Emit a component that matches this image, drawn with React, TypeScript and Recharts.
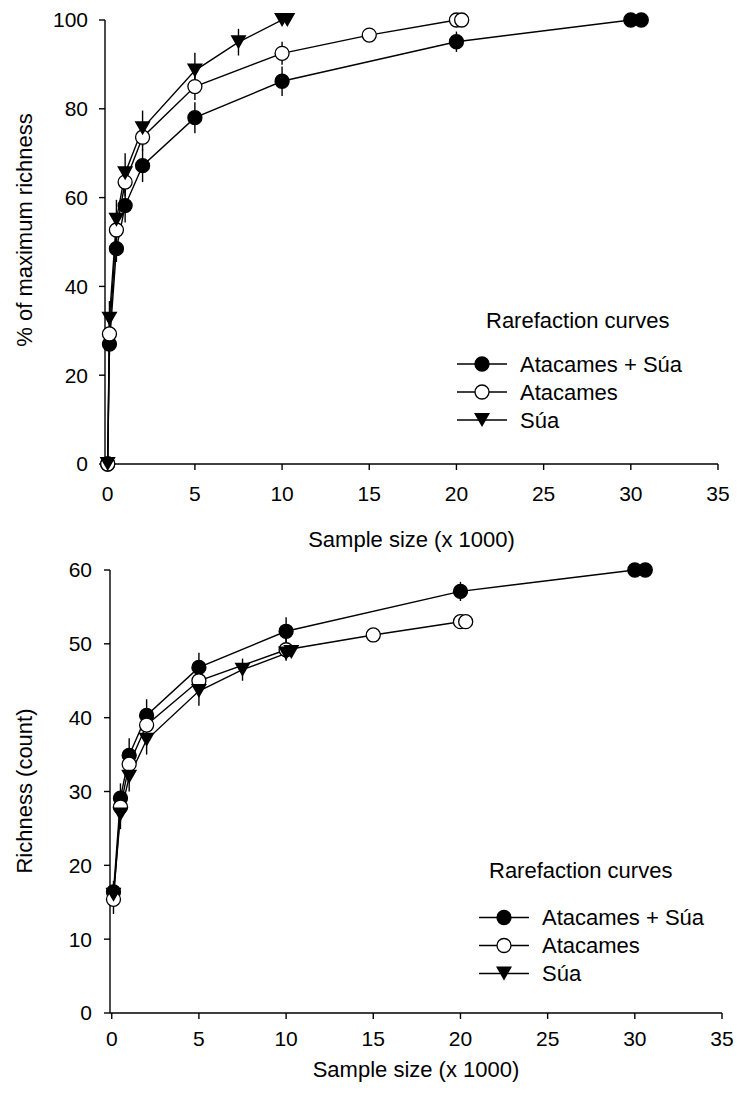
import React from "react";
import { LineChart, Line, XAxis, YAxis, ErrorBar, Label } from "recharts";

const FONT = '"Liberation Sans", Arial, Helvetica, sans-serif';

// sample size (x 1000) for each curve
const comboSizes = [0.1, 0.5, 1, 2, 5, 10, 20, 30, 30.6];
const atacamesSizes = [0.1, 0.5, 1, 2, 5, 10, 15, 20, 20.3];
const suaSizes = [0.1, 0.5, 1, 2, 5, 7.5, 10, 10.3];

// top panel: % of maximum richness (curves start at 0 samples)
const comboPct = [0, 27, 48.5, 58.2, 67.2, 78, 86.2, 95.1, 100, 100];
const comboPctErr = [0, 2.5, 3, 3.8, 3.7, 3.5, 3.3, 2.3, 0, 0];
const atacamesPct = [0, 29.3, 52.7, 63.5, 73.6, 85, 92.5, 96.6, 100, 100];
const atacamesPctErr = [0, 2.5, 3, 3.2, 3, 3, 2.6, 1.2, 0, 0];
const suaPct = [0, 32.7, 55, 65.5, 75.6, 88.6, 95, 100, 100];
const suaPctErr = [0, 4, 4.5, 4.5, 4, 4, 3, 0, 0];

// bottom panel: richness (count)
const comboCount = [16.4, 29.1, 34.9, 40.3, 46.8, 51.7, 57.1, 60, 60];
const comboCountErr = [1.5, 2, 2.3, 2.2, 2, 1.9, 1.3, 0, 0];
const atacamesCount = [15.4, 27.9, 33.7, 39, 45, 49.2, 51.2, 53, 53];
const atacamesCountErr = [2, 2, 2, 2, 2, 1.5, 0.8, 0, 0];
const suaCount = [16, 26.9, 32, 37, 43.6, 46.5, 48.7, 48.9];
const suaCountErr = [1.5, 2, 2, 2, 2, 1.5, 0, 0];

const seriesNames = ["Atacames + Súa", "Atacames", "Súa"];
const seriesMarkers = ["filled", "open", "triangle"];

const xTicks = [0, 5, 10, 15, 20, 25, 30, 35];
const pctTicks = [0, 20, 40, 60, 80, 100];
const countTicks = [0, 10, 20, 30, 40, 50, 60];

const rows = (xs: number[], ys: number[], errs: number[]) =>
  xs.map((x, i) => ({ x, y: ys[i], err: errs[i] }));

const topSeries = [
  rows([0, ...comboSizes], comboPct, comboPctErr),
  rows([0, ...atacamesSizes], atacamesPct, atacamesPctErr),
  rows([0, ...suaSizes], suaPct, suaPctErr),
];
const bottomSeries = [
  rows(comboSizes, comboCount, comboCountErr),
  rows(atacamesSizes, atacamesCount, atacamesCountErr),
  rows(suaSizes, suaCount, suaCountErr),
];

const INK = "#000";
const SW = 1.4;

function Marker({ cx, cy, kind }: { cx?: number; cy?: number; kind: string }) {
  if (cx == null || cy == null) return null;
  if (kind === "triangle") {
    return <path d={`M${cx - 8},${cy - 7}L${cx + 8},${cy - 7}L${cx},${cy + 7}Z`} fill={INK} />;
  }
  return (
    <circle cx={cx} cy={cy} r={7} fill={kind === "open" ? "#fff" : INK} stroke={INK} strokeWidth={1.3} />
  );
}

interface PanelProps {
  height: number;
  rightMargin: number;
  yAxisWidth: number;
  xAxisHeight: number;
  xMin: number;
  yMax: number;
  yTicks: number[];
  yLabel: string;
  yLabelCenter: number;
  xTickMargin: number;
  yTickMargin: number;
  xLabelDy: number;
  series: { x: number; y: number; err: number }[][];
}

function Panel(p: PanelProps) {
  const tickStyle = { fill: INK, fontSize: 21, fontFamily: FONT };
  const axisStroke = { stroke: INK, strokeWidth: SW };
  return (
    <LineChart width={737} height={p.height} margin={{ top: 20, right: p.rightMargin, bottom: 0, left: 0 }}>
      <XAxis
        xAxisId="b"
        type="number"
        dataKey="x"
        domain={[p.xMin, 35]}
        ticks={xTicks}
        height={p.xAxisHeight}
        tickSize={6}
        tickMargin={p.xTickMargin}
        axisLine={axisStroke}
        tickLine={axisStroke}
        tick={tickStyle}
      >
        <Label
          content={({ viewBox }: any) => (
            <text
              x={viewBox.x + viewBox.width / 2}
              y={viewBox.y + p.xLabelDy}
              textAnchor="middle"
              fontSize={22}
              fontFamily={FONT}
              fill={INK}
            >
              Sample size (x 1000)
            </text>
          )}
        />
      </XAxis>
      <XAxis
        xAxisId="t"
        orientation="top"
        type="number"
        domain={[p.xMin, 35]}
        height={0}
        tick={false}
        tickLine={false}
        axisLine={axisStroke}
      />
      <YAxis
        yAxisId="l"
        type="number"
        domain={[0, p.yMax]}
        ticks={p.yTicks}
        width={p.yAxisWidth}
        tickSize={6}
        tickMargin={p.yTickMargin}
        axisLine={axisStroke}
        tickLine={axisStroke}
        tick={tickStyle}
      >
        <Label
          content={() => (
            <text
              transform={`translate(24,${p.yLabelCenter}) rotate(-90)`}
              textAnchor="middle"
              dominantBaseline="central"
              fontSize={22}
              fontFamily={FONT}
              fill={INK}
            >
              {p.yLabel}
            </text>
          )}
        />
      </YAxis>
      <YAxis
        yAxisId="r"
        orientation="right"
        type="number"
        domain={[0, p.yMax]}
        width={0}
        tick={false}
        tickLine={false}
        axisLine={axisStroke}
      />
      {p.series.map((data, i) => (
        <Line
          key={seriesNames[i]}
          name={seriesNames[i]}
          xAxisId="b"
          yAxisId="l"
          data={data}
          dataKey="y"
          type="linear"
          stroke={INK}
          strokeWidth={SW}
          isAnimationActive={false}
          dot={(d: any) => <Marker key={`${i}-${d.index}`} cx={d.cx} cy={d.cy} kind={seriesMarkers[i]} />}
          activeDot={false}
        >
          <ErrorBar dataKey="err" direction="y" width={0} stroke={INK} strokeWidth={1.4} isAnimationActive={false} />
        </Line>
      ))}
    </LineChart>
  );
}

function LegendBox({ titleX, titleY, lineX, rowY }: { titleX: number; titleY: number; lineX: number; rowY: number }) {
  return (
    <g fontFamily={FONT} fontSize={22} fill={INK}>
      <text x={titleX} y={titleY}>Rarefaction curves</text>
      {seriesNames.map((name, i) => {
        const y = rowY + i * 28;
        return (
          <g key={name}>
            <line x1={lineX} x2={lineX + 50} y1={y - 7.5} y2={y - 7.5} stroke={INK} strokeWidth={SW} />
            <Marker cx={lineX + 25} cy={y - 7.5} kind={seriesMarkers[i]} />
            <text x={lineX + 63} y={y}>{name}</text>
          </g>
        );
      })}
    </g>
  );
}

export default function App() {
  return (
    <div style={{ position: "absolute", left: 0, top: 0, width: 737, height: 1103, background: "#fff" }}>
      <div style={{ position: "absolute", left: 0, top: 0 }}>
        <Panel
          height={560}
          rightMargin={19}
          yAxisWidth={105}
          xAxisHeight={96}
          xMin={-0.155}
          yMax={100}
          yTicks={pctTicks}
          yLabel="% of maximum richness"
          yLabelCenter={230}
          xTickMargin={16}
          yTickMargin={11}
          xLabelDy={82.5}
          series={topSeries}
        />
      </div>
      <div style={{ position: "absolute", left: 0, top: 550 }}>
        <Panel
          height={553}
          rightMargin={15}
          yAxisWidth={110}
          xAxisHeight={90}
          xMin={-0.1}
          yMax={60}
          yTicks={countTicks}
          yLabel="Richness (count)"
          yLabelCenter={241}
          xTickMargin={12}
          yTickMargin={12}
          xLabelDy={64}
          series={bottomSeries}
        />
      </div>
      <svg width={737} height={1103} style={{ position: "absolute", left: 0, top: 0, pointerEvents: "none" }}>
        <LegendBox titleX={486} titleY={328} lineX={457} rowY={371.5} />
        <LegendBox titleX={489} titleY={878} lineX={479} rowY={925} />
      </svg>
    </div>
  );
}
